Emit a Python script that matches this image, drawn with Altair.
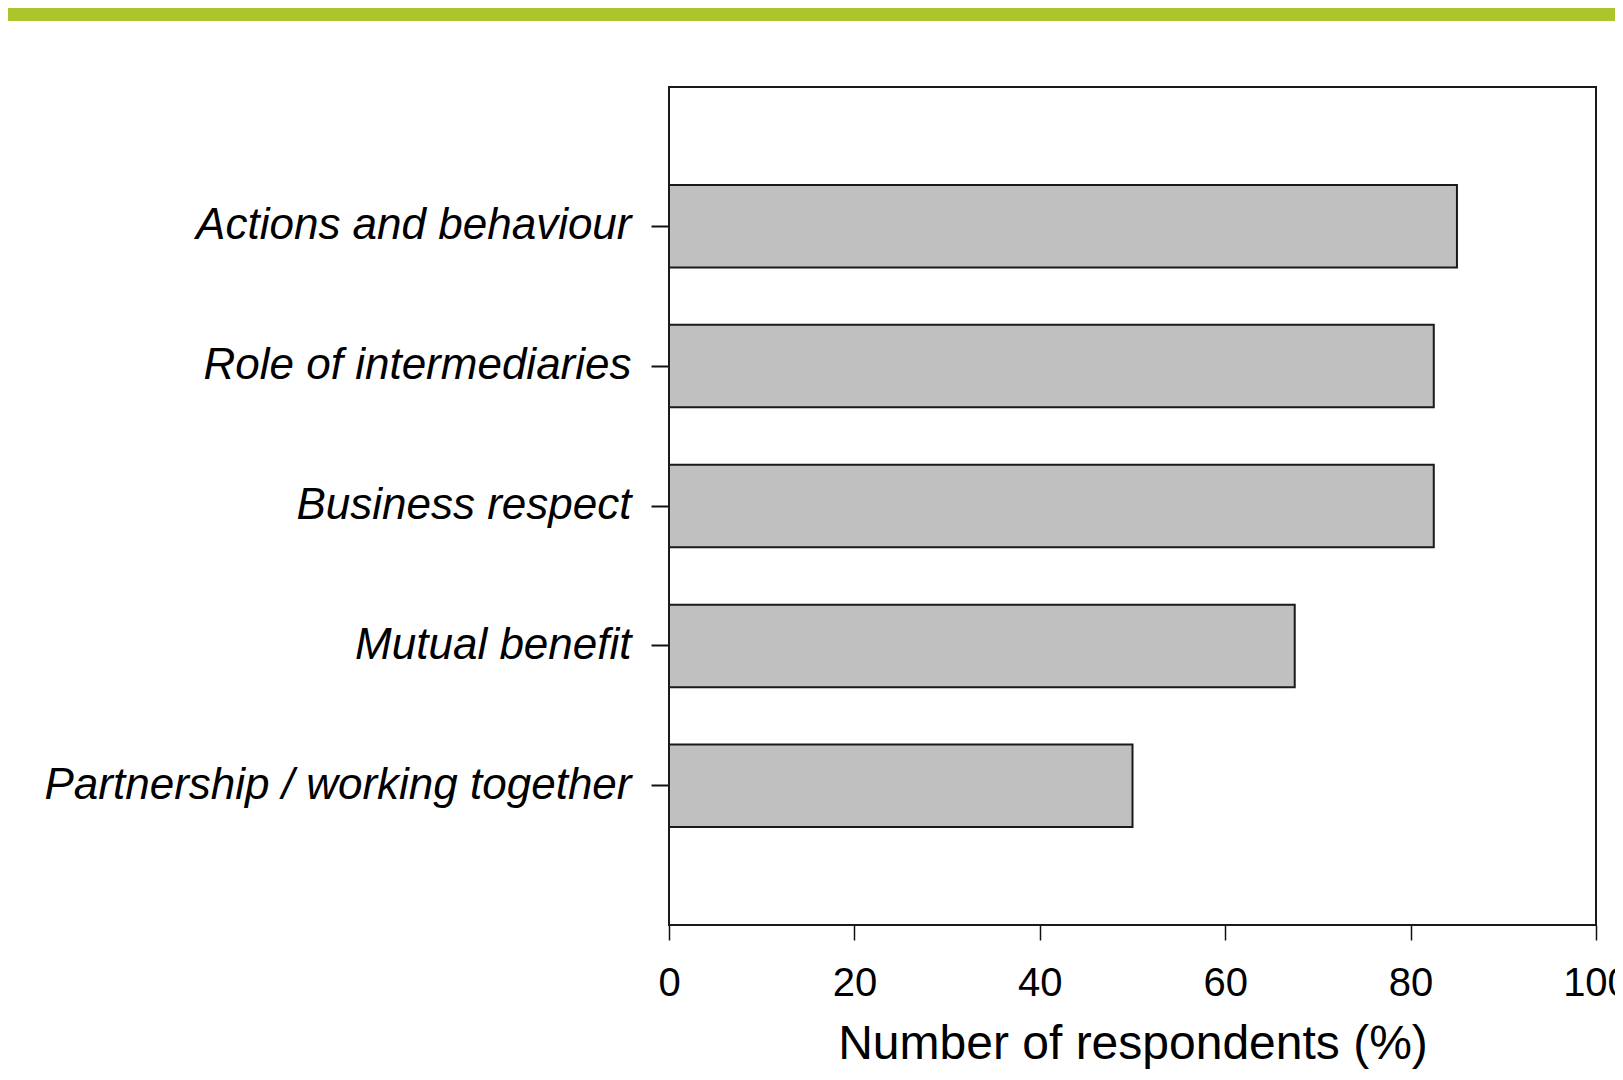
import altair as alt
import pandas as pd

categories = [
    "Actions and behaviour",
    "Role of intermediaries",
    "Business respect",
    "Mutual benefit",
    "Partnership / working together",
]
values = [85, 82.5, 82.5, 67.5, 50]
x_ticks = [0, 20, 40, 60, 80, 100]
x_title = "Number of respondents (%)"

df = pd.DataFrame({"category": categories, "value": values})

W, H = 927, 838
PL, PT, PR, PB = 661, 79, 19, 144
FONT = "Liberation Sans"

bars = alt.Chart(df).mark_bar(
    color="#c0c0c0", stroke="#1a1a1a", strokeWidth=2
).encode(
    x=alt.X(
        "value:Q",
        scale=alt.Scale(domain=[0, 100], nice=False, zero=True),
        axis=alt.Axis(
            values=x_ticks,
            title=x_title,
            grid=False,
            domain=False,
            tickSize=15,
            tickWidth=1.5,
            tickColor="#111111",
            labelFont=FONT,
            labelFontSize=40,
            labelColor="#000000",
            labelPadding=23,
            labelFlush=False,
            labelOverlap=False,
            titleFont=FONT,
            titleFontSize=48,
            titleFontWeight="normal",
            titleColor="#000000",
            titleBaseline="alphabetic",
            titleY=133,
        ),
    ),
    y=alt.Y(
        "category:N",
        sort=categories,
        scale=alt.Scale(paddingInner=0.41, paddingOuter=0.7),
        axis=alt.Axis(
            title=None,
            grid=False,
            domain=False,
            tickSize=18,
            tickWidth=2,
            tickColor="#111111",
            labelFont=FONT,
            labelFontSize=44,
            labelFontStyle="italic",
            labelColor="#000000",
            labelPadding=20,
            labelLimit=800,
        ),
    ),
)

band = alt.Chart(pd.DataFrame({"a": [0]})).mark_rect(color="#adc42a").encode(
    x=alt.value(-PL), x2=alt.value(W + PR), y=alt.value(-PT), y2=alt.value(-PT + 13)
)

chart = (
    alt.layer(band, bars)
    .properties(
        width=W,
        height=H,
        padding={"left": PL, "top": PT, "right": PR, "bottom": PB},
        autosize=alt.AutoSizeParams(type="none"),
        background="#ffffff",
    )
    .configure_view(stroke="#1a1a1a", strokeWidth=2)
)

chart.save("out.html", embed_options={"renderer": "svg", "actions": False})
